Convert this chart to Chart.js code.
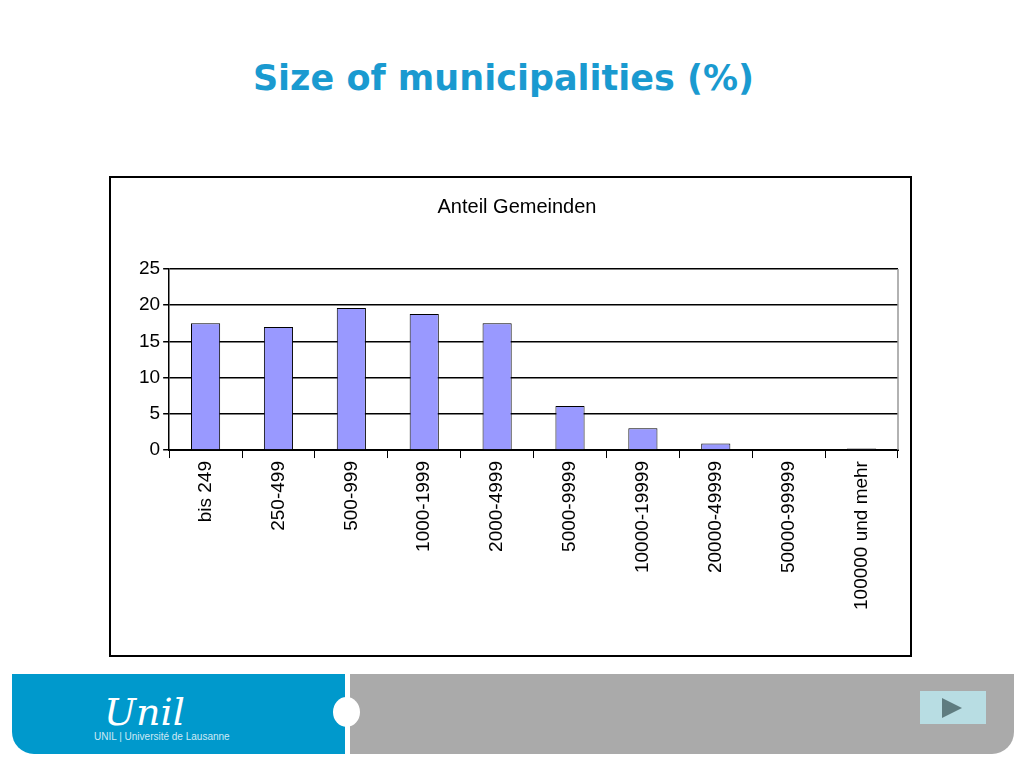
<!DOCTYPE html>
<html>
<head>
<meta charset="utf-8">
<script src="https://cdn.jsdelivr.net/npm/chart.js@4/dist/chart.umd.min.js"></script>
<style>
body { margin:0; width:1024px; height:768px; background:#fff; position:relative; overflow:hidden; font-family:"Liberation Sans", Arial, sans-serif; }
#title { position:absolute; top:58px; left:0; width:1007px; text-align:center; color:#1a9ad0; font-weight:bold; font-size:35px; font-family:Verdana, "DejaVu Sans", sans-serif; }
#box { position:absolute; left:109px; top:176px; width:799px; height:477px; border:2px solid #000; }
#footL { position:absolute; left:12px; top:674px; width:333px; height:80px; background:#0099cc; border-radius:0 0 0 22px; }
#footR { position:absolute; left:350px; top:674px; width:664px; height:80px; background:#aaaaaa; border-radius:0 0 22px 0; }
#dot { position:absolute; left:333px; top:697px; width:27px; height:30px; border-radius:50%; background:#fff; }
#logo { position:absolute; left:104px; top:690px; color:#fff; font-family:"DejaVu Serif", serif; font-style:italic; font-size:38px; }
#sub { position:absolute; left:94px; top:731px; color:#cfe9f5; font-size:10px; }
#play { position:absolute; left:920px; top:691px; width:66px; height:33px; background:#b8dde3; }
#play div { position:absolute; left:22px; top:7px; width:0; height:0; border-left:20px solid #5f7c80; border-top:10px solid transparent; border-bottom:10px solid transparent; }
</style>
</head>
<body>
<div id="title">Size of municipalities (%)</div>
<div id="box"><canvas id="myChart" width="799" height="477"></canvas></div>
<div id="footL"></div><div id="footR"></div><div id="dot"></div>
<div id="logo">Unil</div>
<div id="sub">UNIL | Université de Lausanne</div>
<div id="play"><div></div></div>
<script>
var categories = ["bis 249", "250-499", "500-999", "1000-1999", "2000-4999", "5000-9999", "10000-19999", "20000-49999", "50000-99999", "100000 und mehr"];
var values = [17.5, 17.0, 19.6, 18.8, 17.5, 6.1, 3.0, 0.9, 0, 0.2];
var yTicks = [0, 5, 10, 15, 20, 25];

window.onload = function() {
    var ctx = document.getElementById('myChart').getContext('2d');
    new Chart(ctx, {
        type: 'bar',
        data: {
            labels: categories,
            datasets: [{
                data: values,
                backgroundColor: "#9999ff",
                borderColor: "#000",
                borderWidth: 1,
                barPercentage: 0.4,
                categoryPercentage: 1
            }]
        },
        options: {
            responsive: false,
            animation: false,
            layout: { padding: { left: 25, right: 12, top: 17, bottom: 42 } },
            plugins: {
                legend: { display: false },
                tooltip: { enabled: false },
                title: {
                    display: true,
                    text: "Anteil Gemeinden",
                    color: "#000",
                    font: { size: 20, family: "Liberation Sans", weight: "normal" },
                    padding: { top: 0, bottom: 50 }
                }
            },
            scales: {
                x: {
                    grid: { offset: true, drawOnChartArea: false, color: "#000", tickLength: 8 },
                    border: { color: "#000", width: 2 },
                    ticks: { color: "#000", maxRotation: 90, minRotation: 90, font: { size: 19, family: "Liberation Sans" } }
                },
                y: {
                    min: 0, max: 25,
                    afterBuildTicks: function(axis) { axis.ticks = yTicks.map(function(v) { return { value: v }; }); },
                    grid: { color: "#000", lineWidth: 1.5, tickLength: 6 },
                    border: { color: "#000", width: 1.5 },
                    ticks: { color: "#000", font: { size: 19, family: "Liberation Sans" } }
                }
            }
        },
        plugins: [{
            id: 'rightEdge',
            afterDraw: function(chart) {
                var a = chart.chartArea, c = chart.ctx;
                c.save(); c.strokeStyle = "#999"; c.lineWidth = 1.5;
                c.beginPath(); c.moveTo(a.right, a.top); c.lineTo(a.right, a.bottom); c.stroke();
                c.restore();
            }
        }]
    });
};
</script>
</body>
</html>
